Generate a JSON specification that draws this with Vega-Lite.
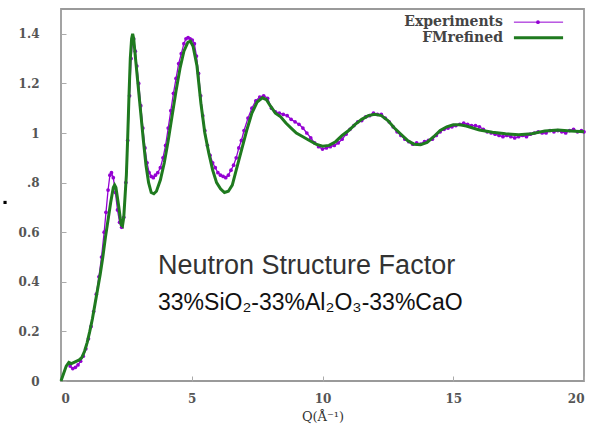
{
  "$schema": "https://vega.github.io/schema/vega-lite/v6.json",
  "width": 523,
  "height": 372,
  "autosize": "none",
  "padding": {"left": 61, "top": 9, "right": 12, "bottom": 52},
  "background": "white",
  "config": {
    "view": {"stroke": "#9a9a9a", "strokeWidth": 1.8},
    "axis": {
      "grid": false,
      "domain": false,
      "tickColor": "#aaaaaa",
      "tickSize": -5,
      "labelFont": "DejaVu Serif",
      "labelFontWeight": "bold",
      "labelFontSize": 12,
      "labelColor": "#555555",
      "titleFont": "DejaVu Serif",
      "titleFontWeight": "normal",
      "titleFontSize": 13,
      "titleColor": "#333333"
    }
  },
  "datasets": {
    "exp": [
      {"q":0.35,"s":0.06},{"q":0.45,"s":0.05},{"q":0.55,"s":0.055},{"q":0.65,"s":0.065},{"q":0.75,"s":0.08},{"q":0.85,"s":0.1},{"q":0.95,"s":0.13},{"q":1.05,"s":0.17},{"q":1.15,"s":0.22},{"q":1.25,"s":0.28},{"q":1.35,"s":0.35},{"q":1.45,"s":0.42},{"q":1.55,"s":0.5},{"q":1.65,"s":0.6},{"q":1.72,"s":0.68},{"q":1.8,"s":0.77},{"q":1.87,"s":0.83},{"q":1.93,"s":0.84},{"q":2.0,"s":0.82},{"q":2.08,"s":0.76},{"q":2.16,"s":0.69},{"q":2.24,"s":0.64},{"q":2.32,"s":0.62},{"q":2.4,"s":0.66},{"q":2.48,"s":0.8},{"q":2.55,"s":0.97},{"q":2.62,"s":1.15},{"q":2.68,"s":1.3},{"q":2.73,"s":1.37},{"q":2.78,"s":1.38},{"q":2.84,"s":1.33},{"q":2.9,"s":1.27},{"q":2.97,"s":1.2},{"q":3.05,"s":1.11},{"q":3.13,"s":1.02},{"q":3.21,"s":0.94},{"q":3.29,"s":0.88},{"q":3.37,"s":0.84},{"q":3.45,"s":0.825},{"q":3.53,"s":0.82},{"q":3.61,"s":0.83},{"q":3.7,"s":0.84},{"q":3.8,"s":0.86},{"q":3.9,"s":0.9},{"q":4.0,"s":0.95},{"q":4.1,"s":1.02},{"q":4.2,"s":1.09},{"q":4.3,"s":1.16},{"q":4.4,"s":1.22},{"q":4.5,"s":1.28},{"q":4.6,"s":1.32},{"q":4.7,"s":1.36},{"q":4.78,"s":1.38},{"q":4.86,"s":1.385},{"q":4.94,"s":1.38},{"q":5.02,"s":1.375},{"q":5.1,"s":1.36},{"q":5.18,"s":1.31},{"q":5.26,"s":1.24},{"q":5.34,"s":1.15},{"q":5.42,"s":1.07},{"q":5.5,"s":1.01},{"q":5.6,"s":0.95},{"q":5.7,"s":0.91},{"q":5.8,"s":0.88},{"q":5.9,"s":0.86},{"q":6.0,"s":0.84},{"q":6.1,"s":0.83},{"q":6.2,"s":0.825},{"q":6.3,"s":0.82},{"q":6.4,"s":0.83},{"q":6.5,"s":0.85},{"q":6.6,"s":0.87},{"q":6.7,"s":0.9},{"q":6.8,"s":0.94},{"q":6.9,"s":0.97},{"q":7.0,"s":1.01},{"q":7.15,"s":1.06},{"q":7.3,"s":1.1},{"q":7.45,"s":1.13},{"q":7.6,"s":1.145},{"q":7.75,"s":1.15},{"q":7.9,"s":1.14},{"q":8.05,"s":1.1},{"q":8.2,"s":1.085},{"q":8.35,"s":1.08},{"q":8.5,"s":1.075},{"q":8.65,"s":1.07},{"q":8.8,"s":1.055},{"q":8.95,"s":1.045},{"q":9.1,"s":1.035},{"q":9.25,"s":1.02},{"q":9.4,"s":1.0},{"q":9.55,"s":0.98},{"q":9.7,"s":0.96},{"q":9.85,"s":0.945},{"q":10.0,"s":0.935},{"q":10.15,"s":0.94},{"q":10.3,"s":0.945},{"q":10.45,"s":0.95},{"q":10.6,"s":0.96},{"q":10.75,"s":0.975},{"q":10.9,"s":0.995},{"q":11.05,"s":1.015},{"q":11.2,"s":1.03},{"q":11.35,"s":1.045},{"q":11.5,"s":1.05},{"q":11.65,"s":1.065},{"q":11.8,"s":1.07},{"q":11.95,"s":1.08},{"q":12.1,"s":1.075},{"q":12.25,"s":1.075},{"q":12.4,"s":1.06},{"q":12.55,"s":1.045},{"q":12.7,"s":1.025},{"q":12.85,"s":1.005},{"q":13.0,"s":0.99},{"q":13.15,"s":0.975},{"q":13.3,"s":0.965},{"q":13.45,"s":0.955},{"q":13.6,"s":0.96},{"q":13.75,"s":0.955},{"q":13.9,"s":0.965},{"q":14.05,"s":0.97},{"q":14.2,"s":0.975},{"q":14.35,"s":0.99},{"q":14.5,"s":1.005},{"q":14.65,"s":1.015},{"q":14.8,"s":1.02},{"q":14.95,"s":1.025},{"q":15.1,"s":1.03},{"q":15.25,"s":1.035},{"q":15.4,"s":1.04},{"q":15.55,"s":1.035},{"q":15.7,"s":1.03},{"q":15.85,"s":1.03},{"q":16.0,"s":1.025},{"q":16.15,"s":1.015},{"q":16.3,"s":1.005},{"q":16.45,"s":1.0},{"q":16.6,"s":0.995},{"q":16.75,"s":0.99},{"q":16.9,"s":0.985},{"q":17.05,"s":0.99},{"q":17.2,"s":0.985},{"q":17.35,"s":0.98},{"q":17.5,"s":0.985},{"q":17.65,"s":0.99},{"q":17.8,"s":0.985},{"q":17.95,"s":0.995},{"q":18.1,"s":1.0},{"q":18.25,"s":1.005},{"q":18.4,"s":1.0},{"q":18.55,"s":1.0},{"q":18.7,"s":1.01},{"q":18.85,"s":1.005},{"q":19.0,"s":1.01},{"q":19.15,"s":1.005},{"q":19.3,"s":1.0},{"q":19.45,"s":1.01},{"q":19.6,"s":1.015},{"q":19.75,"s":1.005},{"q":19.9,"s":1.01},{"q":20.0,"s":1.005}
    ],
    "fm": [
      {"q":0.0,"s":0.0},{"q":0.1,"s":0.03},{"q":0.2,"s":0.06},{"q":0.3,"s":0.075},{"q":0.4,"s":0.07},{"q":0.5,"s":0.075},{"q":0.6,"s":0.08},{"q":0.7,"s":0.085},{"q":0.8,"s":0.095},{"q":0.9,"s":0.12},{"q":1.0,"s":0.155},{"q":1.1,"s":0.2},{"q":1.2,"s":0.25},{"q":1.3,"s":0.31},{"q":1.4,"s":0.37},{"q":1.5,"s":0.43},{"q":1.6,"s":0.5},{"q":1.7,"s":0.58},{"q":1.8,"s":0.65},{"q":1.9,"s":0.72},{"q":2.0,"s":0.78},{"q":2.05,"s":0.79},{"q":2.1,"s":0.78},{"q":2.2,"s":0.71},{"q":2.3,"s":0.63},{"q":2.35,"s":0.625},{"q":2.4,"s":0.66},{"q":2.5,"s":0.83},{"q":2.55,"s":0.98},{"q":2.6,"s":1.15},{"q":2.65,"s":1.3},{"q":2.7,"s":1.38},{"q":2.74,"s":1.4},{"q":2.78,"s":1.38},{"q":2.85,"s":1.3},{"q":2.95,"s":1.19},{"q":3.05,"s":1.08},{"q":3.15,"s":0.97},{"q":3.25,"s":0.87},{"q":3.35,"s":0.8},{"q":3.45,"s":0.76},{"q":3.55,"s":0.755},{"q":3.65,"s":0.765},{"q":3.8,"s":0.81},{"q":3.95,"s":0.88},{"q":4.1,"s":0.97},{"q":4.25,"s":1.07},{"q":4.4,"s":1.17},{"q":4.55,"s":1.26},{"q":4.7,"s":1.33},{"q":4.85,"s":1.365},{"q":4.95,"s":1.37},{"q":5.05,"s":1.35},{"q":5.2,"s":1.27},{"q":5.35,"s":1.12},{"q":5.5,"s":1.0},{"q":5.65,"s":0.92},{"q":5.8,"s":0.85},{"q":5.95,"s":0.8},{"q":6.1,"s":0.775},{"q":6.25,"s":0.76},{"q":6.4,"s":0.765},{"q":6.55,"s":0.79},{"q":6.7,"s":0.85},{"q":6.9,"s":0.93},{"q":7.1,"s":1.01},{"q":7.3,"s":1.08},{"q":7.5,"s":1.125},{"q":7.7,"s":1.142},{"q":7.85,"s":1.135},{"q":8.0,"s":1.11},{"q":8.2,"s":1.08},{"q":8.4,"s":1.065},{"q":8.6,"s":1.04},{"q":8.8,"s":1.02},{"q":9.0,"s":1.0},{"q":9.25,"s":0.985},{"q":9.5,"s":0.97},{"q":9.75,"s":0.955},{"q":10.0,"s":0.947},{"q":10.25,"s":0.95},{"q":10.5,"s":0.965},{"q":10.75,"s":0.99},{"q":11.0,"s":1.01},{"q":11.25,"s":1.035},{"q":11.5,"s":1.055},{"q":11.75,"s":1.07},{"q":12.0,"s":1.075},{"q":12.25,"s":1.07},{"q":12.5,"s":1.05},{"q":12.75,"s":1.02},{"q":13.0,"s":0.995},{"q":13.25,"s":0.97},{"q":13.5,"s":0.955},{"q":13.75,"s":0.953},{"q":14.0,"s":0.962},{"q":14.25,"s":0.985},{"q":14.5,"s":1.01},{"q":14.75,"s":1.025},{"q":15.0,"s":1.033},{"q":15.25,"s":1.033},{"q":15.5,"s":1.028},{"q":15.75,"s":1.02},{"q":16.0,"s":1.012},{"q":16.5,"s":1.003},{"q":17.0,"s":0.997},{"q":17.5,"s":0.993},{"q":18.0,"s":0.997},{"q":18.5,"s":1.008},{"q":19.0,"s":1.012},{"q":19.5,"s":1.008},{"q":20.0,"s":1.005}
    ],
    "legtext": [
      {"q":16.9,"s":1.447,"t":"Experiments"},
      {"q":16.9,"s":1.384,"t":"FMrefined"}
    ],
    "legexp": [{"q":17.32,"q2":19.2,"s":1.447}],
    "legexppt": [{"q":18.24,"s":1.447}],
    "legfm": [{"q":17.32,"q2":19.2,"s":1.384}],
    "note1": [{"q":3.71,"s":0.43,"t":"Neutron Structure Factor"}],
    "note2": [{"q":3.71,"s":0.288,"t":"33%SiO₂-33%Al₂O₃-33%CaO"}],
    "dot": [{"q":-2.14,"s":0.72}]
  },
  "layer": [
    {
      "data": {"name": "exp"},
      "mark": {"type": "line", "color": "#9400d3", "strokeWidth": 1.3, "point": {"filled": true, "size": 14, "color": "#9400d3"}},
      "encoding": {
        "x": {"field": "q", "type": "quantitative", "title": "Q(Å⁻¹)", "scale": {"domain": [0, 20], "nice": false},
              "axis": {"values": [0, 5, 10, 15, 20], "labelPadding": 17, "titlePadding": 6, "labelBaseline": "top"}},
        "y": {"field": "s", "type": "quantitative", "title": null, "scale": {"domain": [0, 1.5], "nice": false},
              "axis": {"values": [0, 0.2, 0.4, 0.6, 0.8, 1, 1.2, 1.4], "labelPadding": 27,
                       "labelExpr": "datum.value == 0.8 ? '.8' : format(datum.value, '~g')"}}
      }
    },
    {
      "data": {"name": "fm"},
      "mark": {"type": "line", "color": "#1f7a1f", "strokeWidth": 3},
      "encoding": {
        "x": {"field": "q", "type": "quantitative", "title": "Q(Å⁻¹)"},
        "y": {"field": "s", "type": "quantitative", "title": null}
      }
    },
    {
      "data": {"name": "legexp"},
      "mark": {"type": "rule", "color": "#9400d3", "strokeWidth": 1},
      "encoding": {"x": {"field": "q", "type": "quantitative", "title": "Q(Å⁻¹)"}, "x2": {"field": "q2"}, "y": {"field": "s", "type": "quantitative", "title": null}}
    },
    {
      "data": {"name": "legexppt"},
      "mark": {"type": "point", "filled": true, "color": "#9400d3", "size": 14, "opacity": 1},
      "encoding": {"x": {"field": "q", "type": "quantitative", "title": "Q(Å⁻¹)"}, "y": {"field": "s", "type": "quantitative", "title": null}}
    },
    {
      "data": {"name": "legfm"},
      "mark": {"type": "rule", "color": "#1f7a1f", "strokeWidth": 3},
      "encoding": {"x": {"field": "q", "type": "quantitative", "title": "Q(Å⁻¹)"}, "x2": {"field": "q2"}, "y": {"field": "s", "type": "quantitative", "title": null}}
    },
    {
      "data": {"name": "legtext"},
      "mark": {"type": "text", "align": "right", "baseline": "middle", "font": "DejaVu Serif", "fontSize": 14, "fontWeight": "bold", "color": "#444444"},
      "encoding": {"x": {"field": "q", "type": "quantitative", "title": "Q(Å⁻¹)"}, "y": {"field": "s", "type": "quantitative", "title": null}, "text": {"field": "t"}}
    },
    {
      "data": {"name": "note1"},
      "mark": {"type": "text", "align": "left", "baseline": "alphabetic", "font": "Liberation Sans", "fontSize": 27, "color": "#333333"},
      "encoding": {"x": {"field": "q", "type": "quantitative", "title": "Q(Å⁻¹)"}, "y": {"field": "s", "type": "quantitative", "title": null}, "text": {"field": "t"}}
    },
    {
      "data": {"name": "note2"},
      "mark": {"type": "text", "align": "left", "baseline": "alphabetic", "font": "Liberation Sans", "fontSize": 23, "color": "#111111"},
      "encoding": {"x": {"field": "q", "type": "quantitative", "title": "Q(Å⁻¹)"}, "y": {"field": "s", "type": "quantitative", "title": null}, "text": {"field": "t"}}
    },
    {
      "data": {"name": "dot"},
      "mark": {"type": "square", "filled": true, "color": "#000000", "size": 10, "opacity": 1, "clip": false},
      "encoding": {"x": {"field": "q", "type": "quantitative", "title": "Q(Å⁻¹)"}, "y": {"field": "s", "type": "quantitative", "title": null}}
    }
  ]
}
